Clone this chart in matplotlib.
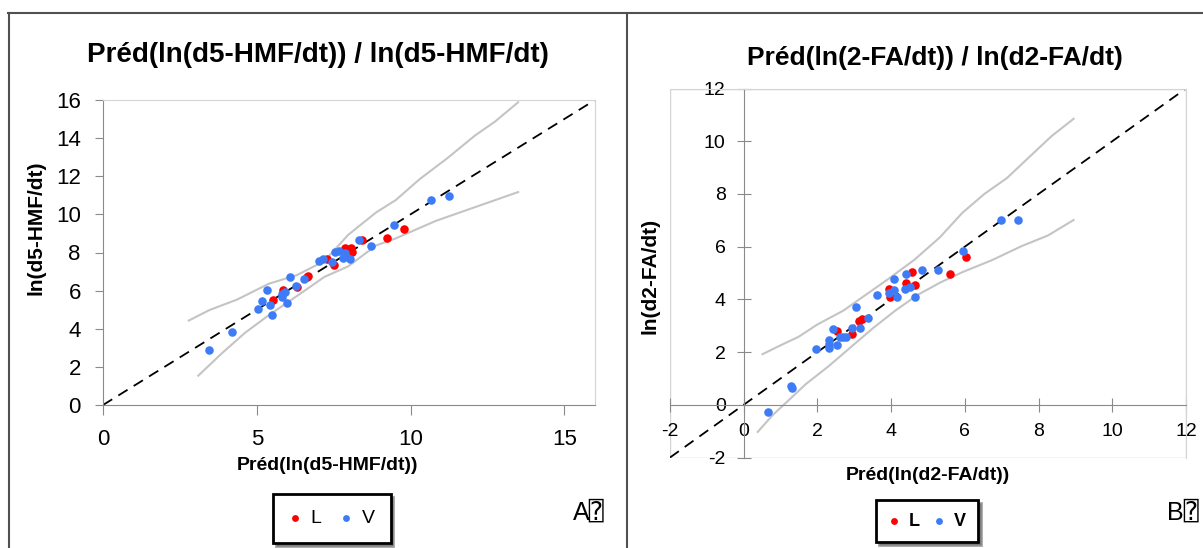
import numpy as np
import matplotlib.pyplot as plt
from matplotlib.lines import Line2D
from matplotlib.patches import Rectangle

plt.rcParams['font.family'] = ['Liberation Sans', 'DejaVu Sans']
plt.rcParams['axes.unicode_minus'] = False

# panel A : d5-HMF
a_blue_x = [3.46, 4.19, 5.03, 5.16, 5.33, 5.42, 5.48, 5.81, 5.83, 5.91, 5.99, 6.09, 6.27, 6.55,
            7.02, 7.14, 7.46, 7.56, 7.69, 7.79, 7.87, 8.04, 8.34, 8.71, 9.47, 10.68, 11.25]
a_blue_y = [2.91, 3.85, 5.04, 5.44, 6.03, 5.24, 4.73, 5.66, 5.81, 5.95, 5.33, 6.74, 6.23, 6.63,
            7.53, 7.64, 7.51, 8.04, 8.08, 7.73, 7.97, 7.64, 8.64, 8.33, 9.45, 10.73, 10.97]
a_red_x = [5.54, 5.86, 6.31, 6.63, 6.68, 7.28, 7.51, 7.87, 8.05, 8.10, 8.43, 9.24, 9.78]
a_red_y = [5.53, 6.04, 6.21, 6.72, 6.78, 7.64, 7.33, 8.26, 8.26, 8.04, 8.64, 8.74, 9.23]
a_up_x = [2.79, 3.46, 4.36, 5.39, 6.30, 7.20, 7.97, 8.88, 9.52, 10.30, 11.20, 12.10, 12.75, 13.50]
a_up_y = [4.43, 4.98, 5.53, 6.36, 6.81, 7.55, 8.92, 10.10, 10.75, 11.85, 12.95, 14.14, 14.87, 15.88]
a_lo_x = [3.10, 3.85, 4.62, 5.39, 6.30, 7.20, 7.97, 8.88, 9.52, 10.81, 12.10, 13.50]
a_lo_y = [1.54, 2.69, 3.79, 4.71, 5.71, 6.72, 7.27, 8.37, 8.74, 9.65, 10.38, 11.17]

# panel B : d2-FA
b_blue_x = [0.67, 1.28, 1.30, 1.95, 2.31, 2.31, 2.31, 2.43, 2.53, 2.61, 2.69, 2.77, 2.95, 3.05,
            3.16, 3.36, 3.62, 3.93, 4.07, 4.07, 4.16, 4.37, 4.41, 4.52, 4.64, 4.84, 5.27, 5.94,
            6.99, 7.44]
b_blue_y = [-0.28, 0.71, 0.63, 2.12, 2.45, 2.17, 2.32, 2.86, 2.26, 2.58, 2.58, 2.58, 2.93, 3.72,
            2.92, 3.30, 4.16, 4.23, 4.76, 4.35, 4.10, 4.38, 4.96, 4.45, 4.10, 5.11, 5.11, 5.85,
            7.01, 7.01]
b_red_x = [2.53, 2.95, 3.14, 3.22, 3.93, 3.97, 4.41, 4.56, 4.65, 5.60, 6.04]
b_red_y = [2.80, 2.68, 3.17, 3.25, 4.40, 4.10, 4.63, 5.05, 4.54, 4.96, 5.62]
b_up_x = [0.51, 0.99, 1.49, 1.99, 2.70, 3.31, 3.91, 4.62, 5.32, 5.93, 6.53, 7.14, 7.74, 8.35, 8.95]
b_up_y = [1.92, 2.25, 2.58, 3.04, 3.57, 4.17, 4.76, 5.49, 6.35, 7.28, 8.00, 8.60, 9.39, 10.19, 10.85]
b_lo_x = [0.38, 0.78, 1.14, 1.69, 2.30, 2.90, 3.51, 4.11, 4.72, 5.32, 5.93, 6.74, 7.54, 8.25, 8.95]
b_lo_y = [-1.03, -0.40, 0.07, 0.79, 1.46, 2.18, 2.91, 3.57, 4.17, 4.63, 5.03, 5.49, 6.02, 6.42, 7.01]

RED = '#ff0000'
BLUE = '#3d7cf6'
BAND = '#c4c4c4'
DARK = '#8a8a8a'
LIGHT = '#d4d4d4'
SYM_FONT = ['Liberation Sans', 'DejaVu Sans Mono', 'DejaVu Sans']

W, H = 1203, 548
fig = plt.figure(figsize=(W / 100, H / 100), dpi=100)


def fx(px):
    return px / W


def fy(py):
    return 1 - py / H


# panel frames
for xs, ys in [((8, W), (13, 13)), ((9, 9), (13, H)), ((627, 627), (13, H))]:
    fig.add_artist(Line2D([fx(x) for x in xs], [fy(y) for y in ys], color='#505050', lw=1.5))

# ---------- A ----------
ax1 = fig.add_axes([fx(103), fy(405), fx(595 - 103), (405 - 100) / H])
ax1.plot([0, 16], [0, 16], color='black', lw=1.3, dashes=(6, 4), zorder=2)
ax1.plot(a_up_x, a_up_y, color=BAND, lw=1.5, zorder=1)
ax1.plot(a_lo_x, a_lo_y, color=BAND, lw=1.5, zorder=1)
hl = ax1.scatter(a_red_x, a_red_y, s=38, color=RED, linewidths=0, zorder=3, label='L')
hv = ax1.scatter(a_blue_x, a_blue_y, s=38, color=BLUE, linewidths=0, zorder=3, label='V')
ax1.set_xlim(0, 16)
ax1.set_ylim(0, 16)
ax1.set_xticks([0, 5, 10, 15])
ax1.set_yticks(np.arange(0, 17, 2))
for s in ['left', 'bottom']:
    ax1.spines[s].set_color(DARK)
for s in ['top', 'right']:
    ax1.spines[s].set_color(LIGHT)
ax1.tick_params(axis='y', colors=DARK, labelcolor='black', labelsize=16, length=6, pad=10)
ax1.tick_params(axis='x', colors=DARK, labelcolor='black', labelsize=16, length=7, pad=10)

fig.text(fx(318), fy(55), 'Préd(ln(d5-HMF/dt)) / ln(d5-HMF/dt)', ha='center', va='center',
         fontsize=20, fontweight='bold')
fig.text(fx(328), fy(465), 'Préd(ln(d5-HMF/dt))', ha='center', va='center', fontsize=14,
         fontweight='bold')
fig.text(fx(36), fy(228), 'ln(d5-HMF/dt)', ha='center', va='center', rotation=90, fontsize=15,
         fontweight='bold')
leg1 = fig.legend(handles=[hl, hv], ncol=2, loc='center', bbox_to_anchor=(fx(332), fy(518.5)),
                  fancybox=False, shadow=True, edgecolor='black', framealpha=1,
                  prop={'size': 14}, handlelength=0.6, handletextpad=0.5, columnspacing=1.0,
                  borderpad=0.8, markerscale=0.8)
leg1.get_frame().set_linewidth(2)
fig.text(fx(589), fy(513), 'A\u2370', ha='center', va='center', fontsize=18, family=SYM_FONT)

# ---------- B ----------
ax2 = fig.add_axes([fx(670), fy(457.5), fx(1186 - 670), (457.5 - 88.5) / H])
ax2.plot([-2, 12], [-2, 12], color='black', lw=1.3, dashes=(6, 4), zorder=2)
ax2.plot(b_up_x, b_up_y, color=BAND, lw=1.5, zorder=1)
ax2.plot(b_lo_x, b_lo_y, color=BAND, lw=1.5, zorder=1)
hl2 = ax2.scatter(b_red_x, b_red_y, s=38, color=RED, linewidths=0, zorder=3, label='L')
hv2 = ax2.scatter(b_blue_x, b_blue_y, s=38, color=BLUE, linewidths=0, zorder=3, label='V')
ax2.set_xlim(-2, 12)
ax2.set_ylim(-2, 12)
ax2.set_xticks(np.arange(-2, 13, 2))
ax2.set_yticks(np.arange(-2, 13, 2))
for s in ['left', 'bottom']:
    ax2.spines[s].set_position(('data', 0))
    ax2.spines[s].set_color(DARK)
for s in ['top', 'right']:
    ax2.spines[s].set_color(LIGHT)
ax2.add_patch(Rectangle((0, 0), 1, 1, transform=ax2.transAxes, fill=False, edgecolor=LIGHT,
                        lw=1, zorder=0))
ax2.tick_params(axis='both', direction='inout', colors=DARK, labelcolor='black', labelsize=14,
                length=10, pad=8)

fig.text(fx(935), fy(58), 'Préd(ln(2-FA/dt)) / ln(d2-FA/dt)', ha='center', va='center',
         fontsize=19, fontweight='bold')
fig.text(fx(928), fy(476), 'Préd(ln(d2-FA/dt))', ha='center', va='center', fontsize=14,
         fontweight='bold')
fig.text(fx(650), fy(276), 'ln(d2-FA/dt)', ha='center', va='center', rotation=90, fontsize=15,
         fontweight='bold')
leg2 = fig.legend(handles=[hl2, hv2], ncol=2, loc='center', bbox_to_anchor=(fx(927), fy(521)),
                  fancybox=False, shadow=True, edgecolor='black', framealpha=1,
                  prop={'size': 13, 'weight': 'bold'}, handlelength=0.6, handletextpad=0.5,
                  columnspacing=0.8, borderpad=0.7, markerscale=0.8)
leg2.get_frame().set_linewidth(2)
fig.text(fx(1183), fy(513), 'B\u2370', ha='center', va='center', fontsize=18, family=SYM_FONT)

fig.savefig('out.png', dpi=100)
